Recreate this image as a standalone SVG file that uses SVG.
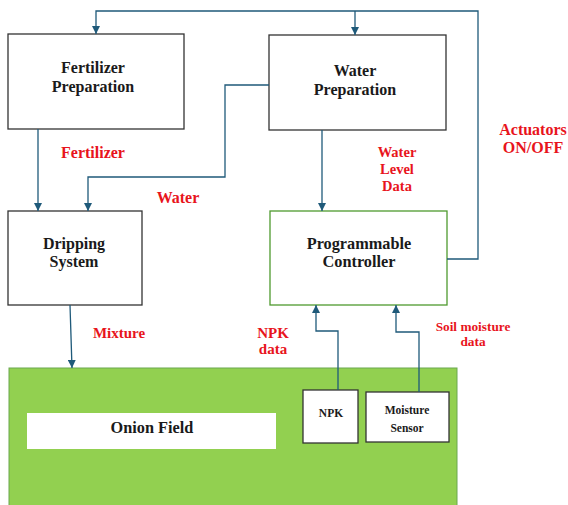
<svg xmlns="http://www.w3.org/2000/svg" width="568" height="505" viewBox="0 0 568 505">
<style>
.box{fill:#fff;stroke:#333;stroke-width:1.3}
.ctl{fill:#fff;stroke:#4f9a2e;stroke-width:1.3}
.t{fill:#1a1a1a}
.lbl{fill:#e8141c}
.c{fill:none;stroke:#1f5a7a;stroke-width:1.3}
</style>
<defs>
<marker id="ah" viewBox="0 0 10 10" refX="10" refY="5" markerWidth="8" markerHeight="8" markerUnits="userSpaceOnUse" orient="auto">
<path d="M0,0 L10,5 L0,10 z" fill="#1f5a7a"/>
</marker>
</defs>
<rect width="568" height="505" fill="#fff"/>
<g font-family="Liberation Serif, DejaVu Serif, serif" font-weight="bold" text-anchor="middle">
<g id="field">
<rect x="9" y="368" width="448" height="140" fill="#92d050" stroke="#6aa84f" stroke-width="1"/>
<rect x="27" y="413" width="249" height="36" fill="#fff"/>
<text class="t" x="152" y="433" font-size="16.3">Onion Field</text>
</g>
<g id="fertilizer-prep">
<rect class="box" x="8" y="34" width="176" height="95"/>
<text class="t" x="93" y="73" font-size="16">Fertilizer</text>
<text class="t" x="93" y="92" font-size="16">Preparation</text>
</g>
<g id="water-prep">
<rect class="box" x="269" y="35" width="177" height="95"/>
<text class="t" x="355" y="76" font-size="16">Water</text>
<text class="t" x="355" y="95" font-size="16">Preparation</text>
</g>
<g id="dripping">
<rect class="box" x="8" y="211" width="134" height="94"/>
<text class="t" x="74" y="249" font-size="16">Dripping</text>
<text class="t" x="74" y="267" font-size="16">System</text>
</g>
<g id="controller">
<rect class="ctl" x="270" y="211" width="177" height="94"/>
<text class="t" x="359" y="249" font-size="16.3">Programmable</text>
<text class="t" x="359" y="267" font-size="16.3">Controller</text>
</g>
<g id="npk">
<rect class="box" x="303" y="390" width="55" height="53"/>
<text class="t" x="331" y="417" font-size="11.5">NPK</text>
</g>
<g id="moisture">
<rect class="box" x="366" y="392" width="83" height="50"/>
<text class="t" x="407" y="414" font-size="11.5">Moisture</text>
<text class="t" x="407" y="432" font-size="11.5">Sensor</text>
</g>
<g id="connectors">
<path class="c" d="M447,259 L478,259 L478,11 L96,11 L96,34" marker-end="url(#ah)"/>
<path class="c" d="M355,11 L355,35" marker-end="url(#ah)"/>
<path class="c" d="M38,129 L38,211" marker-end="url(#ah)"/>
<path class="c" d="M269,85 L225,85 L225,177 L88,177 L88,211" marker-end="url(#ah)"/>
<path class="c" d="M322,130 L322,211" marker-end="url(#ah)"/>
<path class="c" d="M70,305 L72,368" marker-end="url(#ah)"/>
<path class="c" d="M338,390 L338,331 L316,331 L316,305" marker-end="url(#ah)"/>
<path class="c" d="M419,392 L419,332 L396,332 L396,305" marker-end="url(#ah)"/>
</g>
<g id="labels">
<text class="lbl" x="93" y="158" font-size="16">Fertilizer</text>
<text class="lbl" x="178" y="203" font-size="16">Water</text>
<text class="lbl" x="397" y="157" font-size="14.5">Water</text>
<text class="lbl" x="397" y="174" font-size="14.5">Level</text>
<text class="lbl" x="397" y="191" font-size="14.5">Data</text>
<text class="lbl" x="533" y="135" font-size="16">Actuators</text>
<text class="lbl" x="533" y="153" font-size="16">ON/OFF</text>
<text class="lbl" x="119" y="338" font-size="15">Mixture</text>
<text class="lbl" x="273" y="338" font-size="15">NPK</text>
<text class="lbl" x="273" y="354" font-size="15">data</text>
<text class="lbl" x="473" y="331" font-size="13.3">Soil moisture</text>
<text class="lbl" x="473" y="346" font-size="13.3">data</text>
</g>
</g>
</svg>
